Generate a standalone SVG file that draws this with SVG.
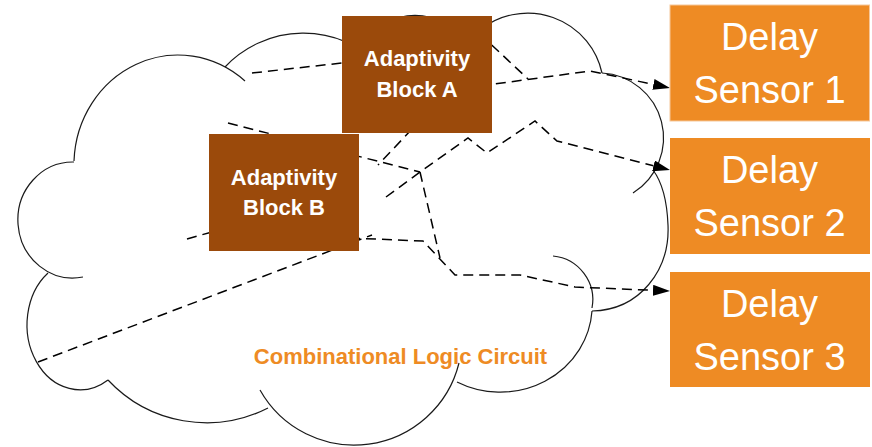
<svg xmlns="http://www.w3.org/2000/svg" width="872" height="447" viewBox="0 0 872 447">
<defs>
<marker id="arr" markerUnits="userSpaceOnUse" markerWidth="17" markerHeight="11" viewBox="0 0 17 11" refX="0" refY="5.5" orient="auto"><path d="M0,0 L17,5.5 L0,11 z" fill="#000"/></marker>
<style>
.cl{fill:none;stroke:#1a1a1a;stroke-width:1.2}
.dl{fill:none;stroke:#000;stroke-width:1.5;stroke-dasharray:10 6}
.blk{fill:#9B4A0B}
.sen{fill:#EE8B24}
.bt{font-family:"Liberation Sans",Arial,sans-serif;font-weight:bold;font-size:22px;fill:#fff;text-anchor:middle}
.st{font-family:"Liberation Sans",Arial,sans-serif;font-size:38px;fill:#fff;text-anchor:middle}
.ct{font-family:"Liberation Sans",Arial,sans-serif;font-weight:bold;font-size:22px;fill:#EE8B24;text-anchor:middle}
</style>
</defs>
<rect width="872" height="447" fill="#fff"/>
<g id="cloud">
<path class="cl" d="M74,162 A55,58 0 1 0 83,277"/>
<path class="cl" d="M48,273 A53,65 0 0 0 108,380"/>
<path class="cl" d="M108,380 A135,135 0 0 0 268,408"/>
<path class="cl" d="M260,390 A108,108 0 0 0 459,363"/>
<path class="cl" d="M457,382 A92,87 0 0 0 592,311"/>
<path class="cl" d="M553,256 A44,44 0 0 1 592,308"/>
<path class="cl" d="M592,311 C640,310 670,270 668,225 C667,200 662,182 653,170"/>
<path class="cl" d="M602,73 A65,65 0 0 1 633,193"/>
<path class="cl" d="M480,30 A76,76 0 0 1 602,73"/>
<path class="cl" d="M365,45 A57,57 0 0 1 465,45"/>
<path class="cl" d="M225,67 A108,108 0 0 1 380,65"/>
<path class="cl" d="M74,161 A104,110 0 0 1 245,81"/>
<text class="ct" x="400.5" y="364">Combinational Logic Circuit</text>
</g>
<g id="connectors">
<path class="dl" d="M252,73 L360,61"/>
<path class="dl" d="M480,86 L590,71 L653.4,84.4" marker-end="url(#arr)"/>
<path class="dl" d="M480,34 L528,79"/>
<path class="dl" d="M228,123 L420,172"/>
<path class="dl" d="M412,129 L378,165"/>
<path class="dl" d="M386,197 L420,172 L468,138 L487,153 L535,121 L557,141 L653.5,165.8" marker-end="url(#arr)"/>
<path class="dl" d="M420,172 L440,258"/>
<path class="dl" d="M350,238 L423,241 L455,275 L520,275 L575,287 L653,290.3" marker-end="url(#arr)"/>
<path class="dl" d="M38,362 L372,235"/>
<path class="dl" d="M187,239 L240,224"/>
</g>
<g id="blockA">
<rect class="blk" x="342" y="16" width="150" height="117"/>
<text class="bt" x="417" y="66">Adaptivity</text>
<text class="bt" x="417" y="97">Block A</text>
</g>
<g id="blockB">
<rect class="blk" x="209" y="134" width="150" height="117"/>
<text class="bt" x="284" y="185">Adaptivity</text>
<text class="bt" x="284" y="215">Block B</text>
</g>
<g id="sensor1">
<rect class="sen" x="670" y="5" width="199.5" height="116" stroke="#F6C79A" stroke-width="1"/>
<text class="st" x="769.5" y="50">Delay</text>
<text class="st" x="769.5" y="103">Sensor 1</text>
</g>
<g id="sensor2">
<rect class="sen" x="670" y="138" width="200" height="116"/>
<text class="st" x="769.5" y="183">Delay</text>
<text class="st" x="769.5" y="236">Sensor 2</text>
</g>
<g id="sensor3">
<rect class="sen" x="670" y="272" width="200" height="115"/>
<text class="st" x="769.5" y="317">Delay</text>
<text class="st" x="769.5" y="370">Sensor 3</text>
</g>
</svg>
